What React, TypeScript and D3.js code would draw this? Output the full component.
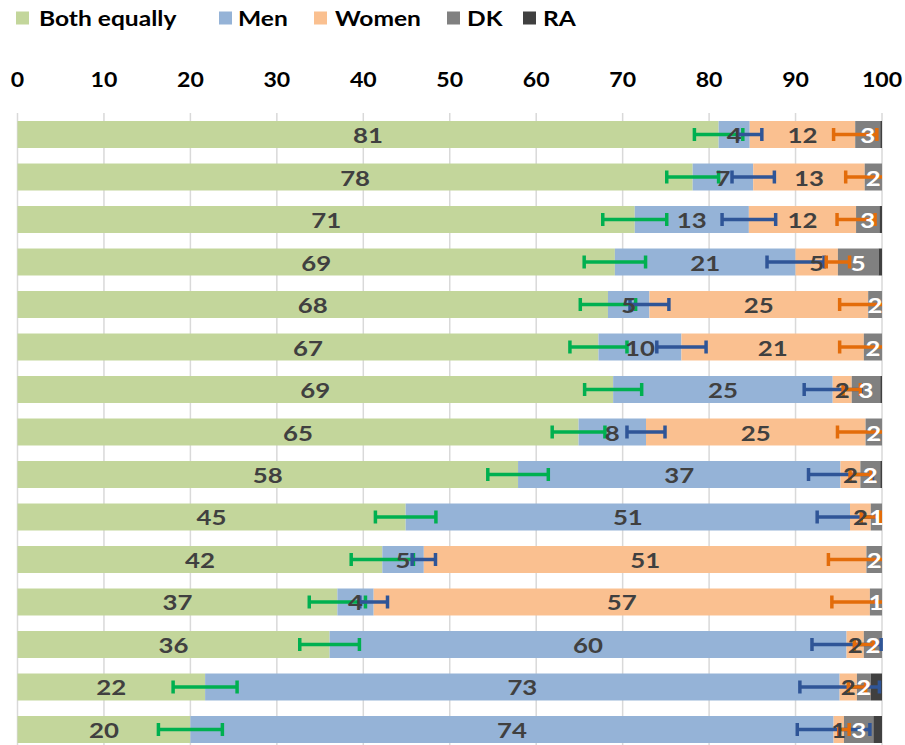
import React from "react";
import * as d3 from "d3";

const seriesNames = ["Both equally", "Men", "Women", "DK", "RA"];
const seriesColors = ["#C3D69B", "#95B3D7", "#FAC090", "#808080", "#404040"];

const bothEqually = [81.1, 78.1, 71.4, 69.1, 68.3, 67.2, 68.9, 64.9, 57.9, 44.9, 42.2, 37.0, 36.1, 21.7, 20.0];
const men = [3.6, 7.0, 13.2, 20.9, 4.8, 9.6, 25.4, 7.8, 37.3, 51.4, 4.8, 4.2, 59.8, 73.4, 74.4];
const women = [12.2, 12.9, 12.4, 4.9, 25.3, 21.1, 2.2, 25.4, 2.3, 2.4, 51.2, 57.4, 2.0, 2.0, 1.2];
const dk = [2.9, 2.0, 2.7, 4.7, 1.6, 2.1, 3.3, 1.9, 2.3, 1.3, 1.8, 1.4, 2.1, 1.6, 3.4];
const ra = [0.2, 0.0, 0.3, 0.4, 0.0, 0.0, 0.2, 0.0, 0.2, 0.0, 0.0, 0.0, 0.0, 1.3, 1.0];

const errBoth = [2.8, 3.0, 3.7, 3.55, 3.2, 3.3, 3.3, 3.05, 3.5, 3.5, 3.6, 3.25, 3.45, 3.7, 3.7];
const errMen = [1.4, 2.45, 3.1, 3.3, 2.25, 2.85, 3.3, 2.2, 3.7, 3.8, 1.35, 1.6, 4.0, 4.6, 4.2];
const errWomen = [2.5, 2.2, 2.2, 1.35, 3.3, 2.8, 1.0, 3.25, 1.2, 1.1, 4.4, 4.4, 1.1, 1.0, 0.6];
const errColors = ["#00B050", "#2F5597", "#E36C0A"];

const xTicks = [0, 10, 20, 30, 40, 50, 60, 70, 80, 90, 100];

const FONT = "Lato, 'Open Sans', sans-serif";

function SText(props: {
  x: number; y: number; sx: number; size: number; fill: string; anchor?: string; children: React.ReactNode;
}) {
  return (
    <text
      transform={`translate(${props.x},${props.y}) scale(${props.sx},1)`}
      fontSize={props.size}
      fontWeight={700}
      fill={props.fill}
      textAnchor={props.anchor || "start"}
    >
      {props.children}
    </text>
  );
}

export default function App() {
  const W = 905, H = 745;
  const x = d3.scaleLinear().domain([0, 100]).range([17.5, 882]);
  const rows = d3.range(bothEqually.length);
  const y = d3.scaleBand<number>().domain(rows).range([105.5, 758.5]).paddingInner(0.365).paddingOuter(0.365);
  const bw = y.bandwidth();
  const data = [bothEqually, men, women, dk, ra];
  const errs = [errBoth, errMen, errWomen];

  const stacked = rows.map((i) => {
    let acc = 0;
    return data.map((s) => {
      const v = s[i];
      const seg = { x0: acc, x1: acc + v, v };
      acc += v;
      return seg;
    });
  });

  const legendItems = [
    { sx: 16, tx: 39 },
    { sx: 219, tx: 238 },
    { sx: 314, tx: 335 },
    { sx: 447, tx: 467 },
    { sx: 523, tx: 543 },
  ];

  return (
    <svg width={W} height={H} style={{ position: "absolute", left: 0, top: 0, background: "#fff" }} fontFamily={FONT}>
      {/* legend */}
      {seriesNames.map((n, k) => (
        <g key={n}>
          <rect x={legendItems[k].sx} y={11.5} width={13} height={13} fill={seriesColors[k]} />
          <SText x={legendItems[k].tx} y={26} sx={1.17} size={21} fill="#000">{n}</SText>
        </g>
      ))}
      {/* tick labels */}
      {xTicks.map((t) => (
        <SText key={t} x={x(t)} y={87} sx={1.1} size={21} fill="#000" anchor="middle">{t}</SText>
      ))}
      {/* gridlines */}
      {xTicks.map((t) => (
        <line key={t} x1={x(t)} x2={x(t)} y1={113} y2={H} stroke="#D9D9D9" strokeWidth={1.5} />
      ))}
      {/* bars */}
      {rows.map((i) => (
        <g key={i}>
          {stacked[i].map((seg, k) =>
            seg.v > 0 ? (
              <rect key={k} x={x(seg.x0)} y={y(i)} width={x(seg.x1) - x(seg.x0)} height={bw} fill={seriesColors[k]} />
            ) : null
          )}
        </g>
      ))}
      {/* error bars */}
      {rows.map((i) => (
        <g key={i}>
          {errs.map((e, k) => {
            const c = stacked[i][k].x1;
            const lo = Math.max(0, c - e[i]);
            const hi = Math.min(100, c + e[i]);
            const cy = (y(i) as number) + bw / 2;
            return (
              <g key={k} stroke={errColors[k]} strokeWidth={3.5}>
                <line x1={x(lo)} x2={x(hi)} y1={cy} y2={cy} />
                {c - e[i] >= 0 && <line x1={x(lo)} x2={x(lo)} y1={cy - 6.5} y2={cy + 6.5} />}
                {c + e[i] <= 100 && <line x1={x(hi)} x2={x(hi)} y1={cy - 6.5} y2={cy + 6.5} />}
              </g>
            );
          })}
        </g>
      ))}
      {/* labels */}
      {rows.map((i) => (
        <g key={i}>
          {stacked[i].slice(0, 4).map((seg, k) => (
            <SText
              key={k}
              x={x((seg.x0 + seg.x1) / 2)}
              y={(y(i) as number) + bw / 2 + 8.5}
              sx={1.2}
              size={21.5}
              anchor="middle"
              fill={k === 3 ? "#FFFFFF" : "#404040"}
            >
              {Math.round(seg.v)}
            </SText>
          ))}
        </g>
      ))}
    </svg>
  );
}
